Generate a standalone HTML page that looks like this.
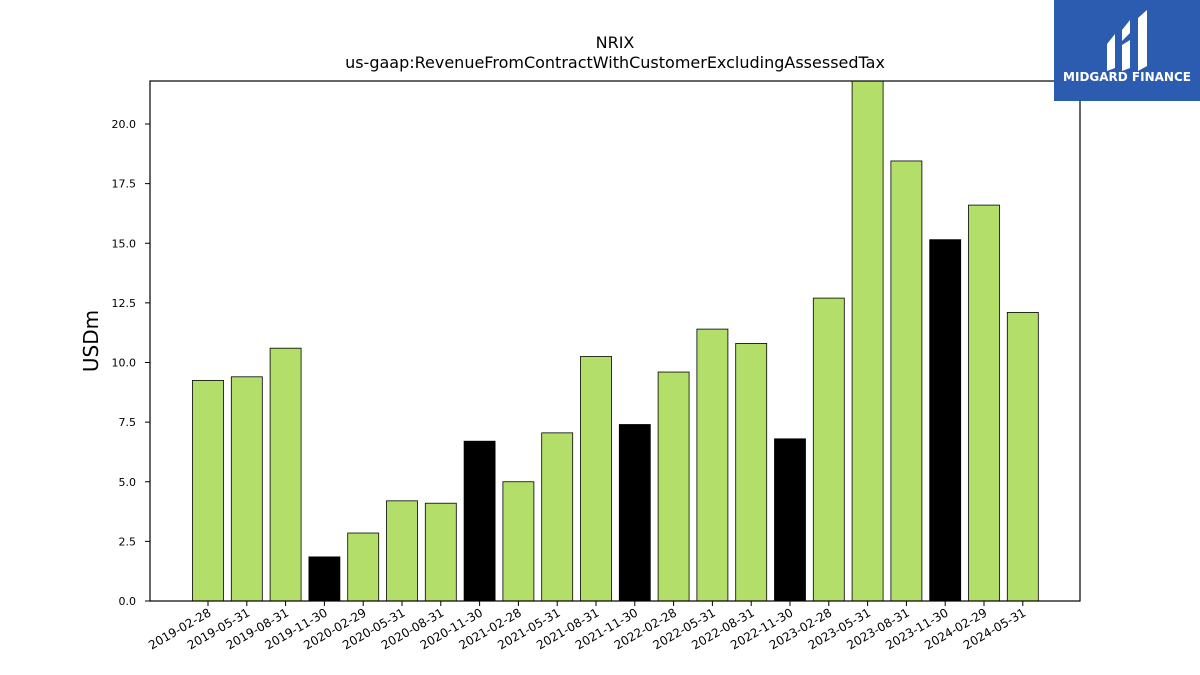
<!DOCTYPE html>
<html><head><meta charset="utf-8"><style>
body{margin:0;background:#fff;}
svg{display:block;font-family:"DejaVu Sans","Liberation Sans",sans-serif;}
</style></head><body>
<svg id="chart" width="1200" height="675" viewBox="0 0 1200 675">
<rect width="1200" height="675" fill="#fff"/>
<text x="615" y="48" font-size="16" text-anchor="middle">NRIX</text>
<text x="615" y="68" font-size="16" text-anchor="middle">us-gaap:RevenueFromContractWithCustomerExcludingAssessedTax</text>
<text transform="translate(98,341) rotate(-90)" font-size="20" text-anchor="middle">USDm</text>
<g id="bars"></g><g id="yticks"></g><g id="xticks"></g>
<rect x="150" y="81" width="930" height="520" fill="none" stroke="#000" stroke-width="1.2"/>
<g>
<rect x="1054" y="0" width="146" height="101" fill="#2c5caf"/>
<path d="M1107 44 l8 -10 v34 l-8 3z M1122 30 l8 -10 v13 l-8 8z M1122 45 l8 -5 v28 l-8 3z M1138 18 l9 -8 v56 l-9 5z" fill="#fff"/>
<text x="1127" y="81" font-size="12" font-weight="bold" fill="#fff" text-anchor="middle">MIDGARD FINANCE</text>
</g>
</svg>
<script>
const categories=["2019-02-28","2019-05-31","2019-08-31","2019-11-30","2020-02-29","2020-05-31","2020-08-31","2020-11-30","2021-02-28","2021-05-31","2021-08-31","2021-11-30","2022-02-28","2022-05-31","2022-08-31","2022-11-30","2023-02-28","2023-05-31","2023-08-31","2023-11-30","2024-02-29","2024-05-31"];
const values=[9.25,9.4,10.6,1.85,2.85,4.2,4.1,6.7,5.0,7.05,10.25,7.4,9.6,11.4,10.8,6.8,12.7,22.5,18.45,15.15,16.6,12.1];
const highlighted=[false,false,false,true,false,false,false,true,false,false,false,true,false,false,false,true,false,false,false,true,false,false];
const yTicks=[0,2.5,5,7.5,10,12.5,15,17.5,20];
const NS="http://www.w3.org/2000/svg";
const y0=601,yTop=81,yMax=(601-81)/23.85;
function yScale(v){return y0-Math.min(v,yMax)*23.85;}
function xScale(i){return 208+i*38.8;}
const bw=31;
const gb=document.getElementById('bars'),gy=document.getElementById('yticks'),gx=document.getElementById('xticks');
values.forEach((v,i)=>{
 const r=document.createElementNS(NS,'rect');
 
 
 const y=yScale(v);
 r.setAttribute('x',xScale(i)-bw/2);r.setAttribute('y',y);r.setAttribute('width',bw);r.setAttribute('height',y0-y);
 r.setAttribute('fill',highlighted[i]?'#000':'#b3de69');r.setAttribute('stroke','#000');r.setAttribute('stroke-width','0.8');
 gb.appendChild(r);
 const t=document.createElementNS(NS,'line');
 
 
 t.setAttribute('x1',xScale(i));t.setAttribute('x2',xScale(i));t.setAttribute('y1',y0);t.setAttribute('y2',y0+5);t.setAttribute('stroke','#000');
 gx.appendChild(t);
 const l=document.createElementNS(NS,'text');
 
 
 const lx=xScale(i)+4,ly=y0+14;
 l.setAttribute('x',lx);l.setAttribute('y',ly);l.setAttribute('font-size','12');l.setAttribute('text-anchor','end');
 l.setAttribute('transform','rotate(-30 '+lx+' '+ly+')');
 l.textContent=categories[i];gx.appendChild(l);
});
yTicks.forEach(v=>{
 const y=yScale(v);
 const t=document.createElementNS(NS,'line');
 
 
 t.setAttribute('x1',145);t.setAttribute('x2',150);t.setAttribute('y1',y);t.setAttribute('y2',y);t.setAttribute('stroke','#000');
 gy.appendChild(t);
 const l=document.createElementNS(NS,'text');
 
 
 l.setAttribute('x',136);l.setAttribute('y',y+4);l.setAttribute('font-size','11');l.setAttribute('text-anchor','end');
 l.textContent=v.toFixed(1);gy.appendChild(l);
});
</script>
</body></html>
